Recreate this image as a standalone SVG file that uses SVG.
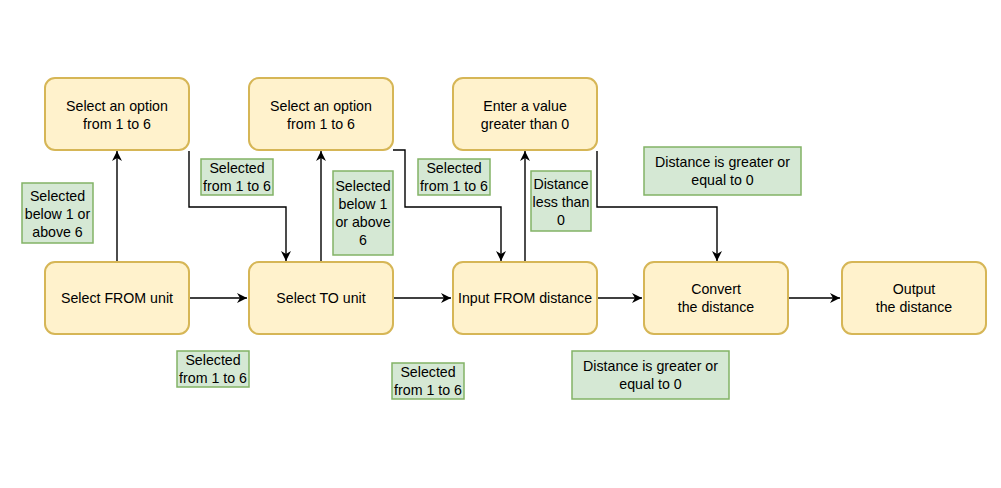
<svg xmlns="http://www.w3.org/2000/svg" width="1001" height="488" viewBox="0 0 1001 488">
<style>
.n rect{fill:#fff2cc;stroke:#d6b656;stroke-width:2}
.g rect{fill:#d5e8d4;stroke:#82b366;stroke-width:1.5}
text{font-family:"Liberation Sans",Arial,sans-serif;font-size:14.2px;fill:#000;text-anchor:middle}
.c path{fill:none;stroke:#000;stroke-width:1.4}
</style>
<defs>
<marker id="a" viewBox="0 0 10 10" refX="10" refY="5" markerWidth="10" markerHeight="10" markerUnits="userSpaceOnUse" orient="auto">
<path d="M0,0 L10,5 L0,10 L3,5 z" fill="#000"/>
</marker>
</defs>
<rect width="1001" height="488" fill="#fff"/>
<g class="c" id="connectors">
<path d="M189,298 H247" marker-end="url(#a)"/>
<path d="M393,298 H451" marker-end="url(#a)"/>
<path d="M597,298 H642" marker-end="url(#a)"/>
<path d="M788,298 H840" marker-end="url(#a)"/>
<path d="M117,262 V151" marker-end="url(#a)"/>
<path d="M321,262 V151" marker-end="url(#a)"/>
<path d="M525,262 V151" marker-end="url(#a)"/>
<path d="M189,151 V207 H286 V261" marker-end="url(#a)"/>
<path d="M393,150 H405 V207 H501 V261" marker-end="url(#a)"/>
<path d="M597,151 V207 H717 V261" marker-end="url(#a)"/>
</g>
<g class="n" id="n1"><rect x="45" y="78" width="144" height="72" rx="10"/><text x="117" y="111">Select an option</text><text x="117" y="129">from 1 to 6</text></g>
<g class="n" id="n2"><rect x="249" y="78" width="144" height="72" rx="10"/><text x="321" y="111">Select an option</text><text x="321" y="129">from 1 to 6</text></g>
<g class="n" id="n3"><rect x="453" y="78" width="144" height="72" rx="10"/><text x="525" y="111">Enter a value</text><text x="525" y="129">greater than 0</text></g>
<g class="n" id="n4"><rect x="45" y="262" width="144" height="72" rx="10"/><text x="117" y="303">Select FROM unit</text></g>
<g class="n" id="n5"><rect x="249" y="262" width="144" height="72" rx="10"/><text x="321" y="303">Select TO unit</text></g>
<g class="n" id="n6"><rect x="453" y="262" width="144" height="72" rx="10"/><text x="525" y="303">Input FROM distance</text></g>
<g class="n" id="n7"><rect x="644" y="262" width="144" height="72" rx="10"/><text x="716" y="294">Convert</text><text x="716" y="312">the distance</text></g>
<g class="n" id="n8"><rect x="842" y="262" width="144" height="72" rx="10"/><text x="914" y="294">Output</text><text x="914" y="312">the distance</text></g>
<g class="g" id="l1"><rect x="22" y="183" width="71" height="60"/><text x="57.5" y="201">Selected</text><text x="57.5" y="219">below 1 or</text><text x="57.5" y="237">above 6</text></g>
<g class="g" id="l2"><rect x="201" y="159" width="72" height="36"/><text x="237" y="173">Selected</text><text x="237" y="191">from 1 to 6</text></g>
<g class="g" id="l3"><rect x="333" y="171" width="60" height="84"/><text x="363" y="191">Selected</text><text x="363" y="209">below 1</text><text x="363" y="227">or above</text><text x="363" y="245">6</text></g>
<g class="g" id="l4"><rect x="418" y="159" width="72" height="36"/><text x="454" y="173">Selected</text><text x="454" y="191">from 1 to 6</text></g>
<g class="g" id="l5"><rect x="531" y="171" width="60" height="60"/><text x="561" y="189">Distance</text><text x="561" y="207">less than</text><text x="561" y="225">0</text></g>
<g class="g" id="l6"><rect x="644" y="147" width="157" height="48"/><text x="722.5" y="167">Distance is greater or</text><text x="722.5" y="185">equal to 0</text></g>
<g class="g" id="l7"><rect x="177" y="351" width="72" height="36"/><text x="213" y="365">Selected</text><text x="213" y="383">from 1 to 6</text></g>
<g class="g" id="l8"><rect x="392" y="363" width="72" height="36"/><text x="428" y="377">Selected</text><text x="428" y="395">from 1 to 6</text></g>
<g class="g" id="l9"><rect x="572" y="351" width="157" height="48"/><text x="650.5" y="371">Distance is greater or</text><text x="650.5" y="389">equal to 0</text></g>
</svg>
